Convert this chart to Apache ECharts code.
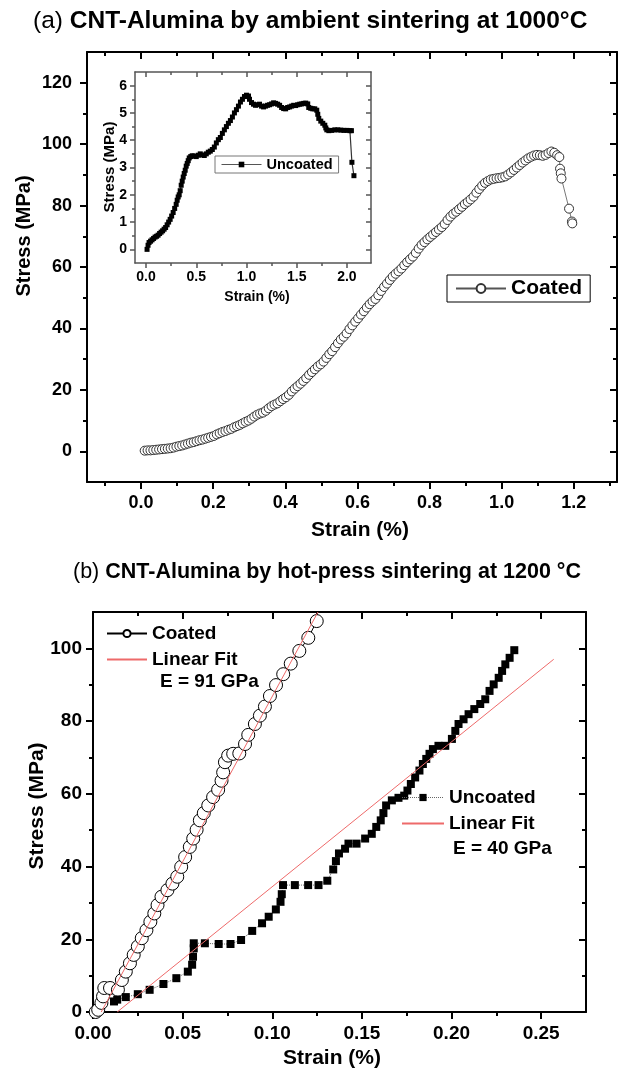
<!DOCTYPE html>
<html><head><meta charset="utf-8">
<script src="https://cdn.jsdelivr.net/npm/echarts@6/dist/echarts.min.js"></script>
<style>html,body{margin:0;padding:0;background:#fff}#c{width:618px;height:1071px}</style>
</head><body><div id="c"></div>
<script>
// ---------- DATA ----------
// Panel (a) main: coated, [strain %, stress MPa]
const aCoated = [
[0.010,0.2],[0.018,0.3],[0.026,0.3],[0.034,0.4],[0.042,0.5],[0.050,0.6],[0.058,0.7],[0.066,0.8],[0.074,0.9],[0.082,1.0],
[0.090,1.2],[0.098,1.5],[0.106,1.7],[0.114,1.9],[0.122,2.2],[0.130,2.5],[0.138,2.8],[0.146,3.0],[0.154,3.3],[0.162,3.6],
[0.170,3.8],[0.178,4.1],[0.186,4.4],[0.194,4.7],[0.202,5.0],[0.210,5.5],[0.218,5.9],[0.226,6.3],[0.234,6.6],[0.242,7.0],
[0.250,7.3],[0.258,7.8],[0.266,8.2],[0.274,8.6],[0.282,9.1],[0.290,9.6],[0.298,10.0],[0.306,10.6],[0.314,11.3],[0.322,11.9],
[0.330,12.3],[0.338,12.6],[0.346,13.2],[0.354,14.0],[0.362,14.7],[0.370,15.2],[0.378,15.6],[0.386,16.3],[0.394,17.0],[0.402,17.6],
[0.410,18.4],[0.418,19.5],[0.426,20.4],[0.434,21.2],[0.442,22.0],[0.450,22.9],[0.458,23.8],[0.466,24.9],[0.474,25.8],[0.482,26.7],
[0.490,27.6],[0.498,28.3],[0.506,29.2],[0.514,30.4],[0.522,31.6],[0.530,32.6],[0.538,33.9],[0.546,35.2],[0.554,36.4],[0.562,37.3],
[0.570,38.4],[0.578,39.8],[0.586,41.0],[0.594,42.2],[0.602,43.3],[0.610,44.5],[0.618,45.6],[0.626,46.8],[0.634,47.9],[0.642,48.8],
[0.650,49.6],[0.658,50.8],[0.666,52.2],[0.674,53.5],[0.682,54.6],[0.690,55.8],[0.698,56.9],[0.706,57.8],[0.714,58.6],[0.722,59.5],
[0.730,60.6],[0.738,61.6],[0.746,62.5],[0.754,63.4],[0.762,64.6],[0.770,66.0],[0.778,67.2],[0.786,68.1],[0.794,69.0],[0.802,69.8],
[0.810,70.6],[0.818,71.4],[0.826,72.2],[0.834,73.0],[0.842,74.0],[0.850,75.3],[0.858,76.4],[0.866,77.3],[0.874,78.0],[0.882,78.8],
[0.890,79.6],[0.898,80.5],[0.906,81.2],[0.914,82.0],[0.922,82.9],[0.930,84.2],[0.938,85.4],[0.946,86.5],[0.954,87.4],[0.962,88.0],
[0.970,88.5],[0.978,88.7],[0.986,88.9],[0.994,89.0],[1.002,89.2],[1.010,89.5],[1.018,90.1],[1.026,90.8],[1.034,91.6],[1.042,92.4],
[1.050,93.2],[1.058,94.0],[1.066,94.7],[1.074,95.4],[1.082,95.9],[1.090,96.3],[1.098,96.5],[1.106,96.4],[1.114,96.2],[1.122,96.5],
[1.130,97.1],[1.138,97.6],[1.146,97.2],[1.154,96.4],[1.160,95.8],[1.162,92.0],[1.164,90.5],[1.166,88.8],[1.187,79.0],[1.195,74.8],[1.196,74.2]
];
// Panel (a) inset: uncoated
const insetUncoated = [
[0.01,0.0],[0.02,0.15],[0.03,0.25],[0.045,0.3],[0.06,0.35],[0.075,0.4],[0.09,0.45],[0.105,0.48],[0.12,0.52],[0.135,0.58],
[0.15,0.63],[0.165,0.68],[0.18,0.74],[0.195,0.8],[0.21,0.9],[0.225,1.0],[0.24,1.1],[0.255,1.22],[0.27,1.35],[0.285,1.5],
[0.3,1.65],[0.31,1.8],[0.32,1.92],[0.33,2.0],[0.34,2.15],[0.35,2.35],[0.36,2.5],[0.37,2.65],[0.38,2.78],[0.39,2.9],
[0.40,3.05],[0.41,3.15],[0.42,3.25],[0.43,3.35],[0.445,3.4],[0.46,3.43],[0.48,3.42],[0.50,3.4],[0.52,3.45],[0.54,3.5],
[0.56,3.46],[0.58,3.44],[0.60,3.5],[0.62,3.56],[0.64,3.6],[0.66,3.66],[0.68,3.75],[0.70,3.9],[0.72,4.02],[0.74,4.1],
[0.76,4.25],[0.78,4.38],[0.80,4.5],[0.82,4.62],[0.84,4.72],[0.86,4.85],[0.88,5.0],[0.90,5.12],[0.92,5.25],[0.94,5.4],
[0.96,5.5],[0.98,5.6],[1.00,5.65],[1.02,5.62],[1.03,5.5],[1.05,5.38],[1.07,5.32],[1.09,5.28],[1.11,5.3],[1.13,5.32],
[1.15,5.25],[1.17,5.22],[1.19,5.25],[1.21,5.28],[1.23,5.3],[1.25,5.33],[1.27,5.37],[1.29,5.35],[1.31,5.32],[1.33,5.28],
[1.35,5.2],[1.37,5.16],[1.39,5.15],[1.41,5.2],[1.43,5.22],[1.45,5.25],[1.47,5.28],[1.49,5.27],[1.51,5.3],[1.53,5.32],
[1.55,5.33],[1.57,5.35],[1.59,5.36],[1.61,5.33],[1.62,5.2],[1.64,5.17],[1.66,5.15],[1.68,5.15],[1.70,5.1],[1.71,4.95],
[1.72,4.8],[1.74,4.7],[1.76,4.62],[1.78,4.55],[1.79,4.45],[1.80,4.38],[1.82,4.35],[1.85,4.36],[1.88,4.38],[1.91,4.38],
[1.94,4.37],[1.97,4.36],[2.00,4.36],[2.03,4.35],[2.045,4.35],[2.05,3.19],[2.07,2.7]
];
// Panel (b): hot-press
const bCoated = [
[0.0015,0],[0.0029,0.6],[0.0047,2.5],[0.0056,4.3],[0.0063,6.6],[0.0095,6.6],[0.0139,6.1],[0.0161,8.8],[0.0183,11.1],[0.0206,13.4],
[0.0227,15.7],[0.025,18.0],[0.0272,20.3],[0.0298,22.5],[0.032,24.8],[0.0342,27.1],[0.036,29.4],[0.0382,31.7],[0.0415,33.5],[0.0443,35.3],
[0.047,37.2],[0.0492,39.9],[0.0514,42.6],[0.054,45.4],[0.0559,47.7],[0.0578,50.1],[0.0596,52.7],[0.0618,54.7],[0.0643,56.8],[0.067,59.1],
[0.0698,61.1],[0.0717,63.6],[0.0726,65.9],[0.0736,68.7],[0.0754,70.5],[0.0782,71.0],[0.0816,71.1],[0.0848,73.7],[0.0866,76.2],[0.0903,79.2],
[0.0931,81.5],[0.0959,84.0],[0.0987,86.9],[0.1021,89.9],[0.1061,92.9],[0.1103,95.8],[0.1151,99.3],[0.1201,102.9],[0.1248,107.5]
];
const bUncoated = [
[0.0117,2.9],[0.0135,3.4],[0.0183,4.1],[0.025,4.9],[0.0316,6.1],[0.0393,7.7],[0.0465,9.3],[0.0529,11.1],[0.0553,13.0],[0.0558,15.2],
[0.0562,17.5],[0.0562,18.9],[0.0624,18.9],[0.0701,18.7],[0.0767,18.7],[0.0826,19.8],[0.0888,22.3],[0.0943,24.4],[0.098,26.2],[0.102,28.2],
[0.1046,30.3],[0.1053,32.4],[0.106,34.9],[0.1126,34.9],[0.12,34.9],[0.1258,34.9],[0.1307,36.1],[0.134,39.2],[0.1355,41.5],[0.1372,43.6],
[0.1406,44.9],[0.1425,46.3],[0.147,46.3],[0.1518,47.7],[0.1555,49.0],[0.158,50.9],[0.1605,52.7],[0.162,54.7],[0.1635,56.8],[0.1667,58.2],
[0.1704,58.9],[0.1736,59.5],[0.1754,60.9],[0.1773,62.7],[0.1797,64.5],[0.1821,66.4],[0.184,68.2],[0.1859,69.6],[0.1877,71.0],[0.1896,72.3],
[0.1927,73.2],[0.1965,73.2],[0.2002,75.1],[0.2021,77.3],[0.2039,79.2],[0.2067,80.5],[0.2095,81.9],[0.2127,83.3],[0.216,84.7],[0.2188,86.0],
[0.2212,88.3],[0.2235,90.1],[0.2263,91.9],[0.2282,93.8],[0.23,95.6],[0.2324,97.4],[0.235,99.5]
];
const bFitCoated = [[0.0046,0],[0.1255,110]];
const bFitUncoated = [[0.0135,0],[0.257,97]];
// Tick values
const aXMajor = [0,0.2,0.4,0.6,0.8,1.0,1.2];
const aXMinor = [-0.1,0.1,0.3,0.5,0.7,0.9,1.1,1.3];
const aYMajor = [0,20,40,60,80,100,120];
const aYMinor = [10,30,50,70,90,110];
const iXMajor = [0,0.5,1.0,1.5,2.0];
const iXMinor = [0.25,0.75,1.25,1.75];
const iYMajor = [0,1,2,3,4,5,6];
const iYMinor = [0.5,1.5,2.5,3.5,4.5,5.5];
const bXMajor = [0,0.05,0.10,0.15,0.20,0.25];
const bXMinor = [0.025,0.075,0.125,0.175,0.225];
const bYMajor = [0,20,40,60,80,100];
const bYMinor = [10,30,50,70,90];
// Texts
const titleA = ['(a) ', 'CNT-Alumina by ambient sintering at 1000°C'];
const titleB = ['(b) ', 'CNT-Alumina by hot-press sintering at 1200 °C'];
const fitTextA = 'E = 91 GPa';
const fitTextB = 'E = 40 GPa';

// ---------- CHART ----------
const FONT = '"Liberation Sans", Arial, sans-serif';
function axes(dim, g, min, max, major, minor, fmt, o) {
  const pos = dim === 'x' ? ['bottom', 'top'] : ['left', 'right'];
  const ls = {color: o.color, width: o.lw};
  const base = {type: 'value', gridIndex: g, min: min, max: max, splitLine: {show: false}};
  return [
    Object.assign({}, base, {position: pos[0],
      axisLine: {show: true, onZero: false, lineStyle: ls},
      axisTick: {show: true, inside: false, length: o.maj, customValues: major, lineStyle: ls},
      axisLabel: {show: true, customValues: major, formatter: fmt, fontSize: o.fs, fontWeight: 'bold',
        fontFamily: FONT, color: '#000', margin: o.margin}}),
    Object.assign({}, base, {position: pos[0],
      axisLine: {show: false, onZero: false},
      axisTick: {show: true, inside: false, length: o.min, customValues: minor, lineStyle: ls},
      axisLabel: {show: false}}),
    Object.assign({}, base, {position: pos[1],
      axisLine: {show: true, onZero: false, lineStyle: ls},
      axisTick: {show: true, inside: true, length: o.maj, customValues: major, lineStyle: ls},
      axisLabel: {show: false}}),
    Object.assign({}, base, {position: pos[1],
      axisLine: {show: false, onZero: false},
      axisTick: {show: true, inside: true, length: o.min, customValues: minor, lineStyle: ls},
      axisLabel: {show: false}})
  ];
}
const oA = {color: '#000', lw: 2, maj: 7, min: 4, fs: 18};
const oI = {color: '#555', lw: 1.5, maj: 5, min: 3, fs: 14};
const oB = {color: '#000', lw: 2, maj: 7, min: 4, fs: 19};
const f1 = v => v.toFixed(1), f0 = v => v.toFixed(0), f2 = v => v.toFixed(2);

const xAxis = [].concat(
  axes('x', 0, -0.15, 1.32, aXMajor, aXMinor, f1, Object.assign({margin: 12}, oA)),
  axes('x', 1, -0.11, 2.24, iXMajor, iXMinor, f1, Object.assign({margin: 7}, oI)),
  axes('x', 2, 0, 0.275, bXMajor, bXMinor, f2, Object.assign({margin: 12}, oB))
);
const yAxis = [].concat(
  axes('y', 0, -10, 130, aYMajor, aYMinor, f0, Object.assign({margin: 15}, oA)),
  axes('y', 1, -0.5, 6.5, iYMajor, iYMinor, f0, Object.assign({margin: 8}, oI)),
  axes('y', 2, 0, 110, bYMajor, bYMinor, f0, Object.assign({margin: 11}, oB))
);

const legText = fs => ({fontSize: fs, fontWeight: 'bold', fontFamily: FONT, color: '#000'});
const noSym = {color: 'rgba(0,0,0,0)', borderWidth: 0, opacity: 0};
const option = {
  animation: false,
  backgroundColor: '#fff',
  grid: [
    {left: 87, top: 52, width: 530, height: 430},
    {left: 135, top: 72, width: 236, height: 191, show: true, backgroundColor: '#fff', borderWidth: 0},
    {left: 93, top: 612, width: 493, height: 400}
  ],
  xAxis: xAxis,
  yAxis: yAxis,
  legend: [
    {data: ['Coated|a'], left: 447, top: 275, orient: 'vertical', borderColor: '#000', borderWidth: 1,
      padding: [3, 8, 3, 8], itemWidth: 50, itemHeight: 11, itemGap: 0,
      formatter: n => n.split('|')[0], textStyle: legText(21), selectedMode: false},
    {data: [{name: 'Uncoated|i', lineStyle: {color: '#555', width: 1}}], left: 215, top: 156, borderColor: '#777', borderWidth: 1,
      padding: [1, 6, 1, 6], itemWidth: 40, itemHeight: 7, itemGap: 0,
      formatter: n => n.split('|')[0], textStyle: legText(14.5), selectedMode: false},
    {data: [{name: 'Coated|b', lineStyle: {color: '#000', width: 2}}, {name: 'Linear Fit|b', itemStyle: noSym}],
      left: 106, top: 624, orient: 'vertical',
      itemWidth: 40, itemHeight: 9, itemGap: 7, padding: 0,
      formatter: n => n.split('|')[0], textStyle: legText(19), selectedMode: false},
    {data: [{name: 'Uncoated|b', lineStyle: {color: '#666', width: 1}}, {name: 'Linear Fit|b2', itemStyle: noSym}],
      left: 401, top: 788, orient: 'vertical',
      itemWidth: 42, itemHeight: 9, itemGap: 7, padding: 0,
      formatter: n => n.split('|')[0], textStyle: legText(19), selectedMode: false}
  ],
  graphic: [
    {type: 'text', left: 33, top: 9, style: {text: '{r|' + titleA[0] + '}{b|' + titleA[1] + '}',
      rich: {r: {fontSize: 24.5, fontFamily: FONT, fill: '#000'}, b: {fontSize: 24.5, fontWeight: 'bold', fontFamily: FONT, fill: '#000'}}}},
    {type: 'text', left: 73, top: 561, style: {text: '{r|' + titleB[0] + '}{b|' + titleB[1] + '}',
      rich: {r: {fontSize: 21.5, fontFamily: FONT, fill: '#000'}, b: {fontSize: 21.5, fontWeight: 'bold', fontFamily: FONT, fill: '#000'}}}},
    {type: 'text', x: 24, y: 236, rotation: Math.PI / 2, style: {text: 'Stress (MPa)', align: 'center', verticalAlign: 'middle',
      font: 'bold 20px ' + FONT, fill: '#000'}},
    {type: 'text', x: 360, y: 530, style: {text: 'Strain (%)', align: 'center', verticalAlign: 'middle',
      font: 'bold 21px ' + FONT, fill: '#000'}},
    {type: 'text', x: 110, y: 167, rotation: Math.PI / 2, style: {text: 'Stress (MPa)', align: 'center', verticalAlign: 'middle',
      font: 'bold 15px ' + FONT, fill: '#000'}},
    {type: 'text', x: 257, y: 297, style: {text: 'Strain (%)', align: 'center', verticalAlign: 'middle',
      font: 'bold 14px ' + FONT, fill: '#000'}},
    {type: 'text', x: 37, y: 806, rotation: Math.PI / 2, style: {text: 'Stress (MPa)', align: 'center', verticalAlign: 'middle',
      font: 'bold 21px ' + FONT, fill: '#000'}},
    {type: 'text', x: 332, y: 1058, style: {text: 'Strain (%)', align: 'center', verticalAlign: 'middle',
      font: 'bold 21px ' + FONT, fill: '#000'}},
    {type: 'text', x: 160, y: 682, style: {text: fitTextA, verticalAlign: 'middle', font: 'bold 19px ' + FONT, fill: '#000'}},
    {type: 'text', x: 453, y: 849, style: {text: fitTextB, verticalAlign: 'middle', font: 'bold 19px ' + FONT, fill: '#000'}}
  ],
  series: [
    {name: 'Coated|a', type: 'line', xAxisIndex: 0, yAxisIndex: 0, data: aCoated, symbol: 'circle', symbolSize: 9,
      showAllSymbol: true, itemStyle: {color: '#fff', borderColor: '#333', borderWidth: 1},
      lineStyle: {color: '#555', width: 0.8}},
    {name: 'Uncoated|i', type: 'line', xAxisIndex: 4, yAxisIndex: 4, data: insetUncoated, symbol: 'rect', symbolSize: 5,
      showAllSymbol: true, itemStyle: {color: '#000'}, lineStyle: {color: '#333', width: 1.2}},
    {name: 'Coated|b', type: 'line', xAxisIndex: 8, yAxisIndex: 8, data: bCoated, symbol: 'circle', symbolSize: 13,
      showAllSymbol: true, itemStyle: {color: '#fff', borderColor: '#000', borderWidth: 1},
      lineStyle: {color: '#000', width: 1}},
    {name: 'Uncoated|b', type: 'line', xAxisIndex: 8, yAxisIndex: 8, data: bUncoated, symbol: 'rect', symbolSize: 8,
      showAllSymbol: true, itemStyle: {color: '#000'}, lineStyle: {color: '#666', width: 1, type: 'dotted'}},
    {name: 'Linear Fit|b', type: 'line', xAxisIndex: 8, yAxisIndex: 8, data: bFitCoated, symbol: 'none',
      itemStyle: {color: '#ee6a6a'}, lineStyle: {color: '#ee6a6a', width: 1}, z: 5},
    {name: 'Linear Fit|b2', type: 'line', xAxisIndex: 8, yAxisIndex: 8, data: bFitUncoated, symbol: 'none',
      itemStyle: {color: '#ee6a6a'}, lineStyle: {color: '#ee6a6a', width: 1}, z: 5}
  ]
};
const chart = echarts.init(document.getElementById('c'), null, {renderer: 'canvas'});
chart.setOption(option);
</script>
</body></html>
